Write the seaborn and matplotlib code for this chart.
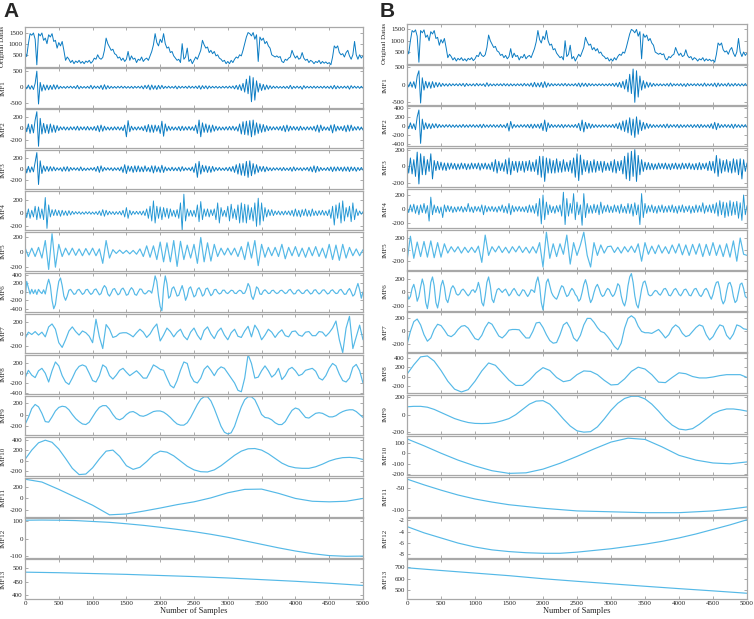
import numpy as np
import matplotlib
matplotlib.use("Agg")
import matplotlib.pyplot as plt
import seaborn as sns

# ---- values (equally spaced over samples 0..5000) ----
original = [
    620, 420, 1000, 1450, 1380, 1480, 1200, 50, 1450, 1350,
    1480, 1150, 1250, 1000, 1400, 1300, 1450, 1100, 1150, 800,
    1050, 900, 1100, 700, 250, 400, 300, 150, 250, 100,
    220, 150, 250, 120, 200, 100, 220, 160, 250, 120,
    200, 350, 300, 500, 350, 300, 380, 700, 1250, 1000,
    850, 700, 750, 550, 500, 350, 400, 250, 350, 200,
    300, 650, 250, 450, 300, 350, 150, 300, 250, 400,
    200, 300, 350, 250, 450, 650, 950, 1450, 1050, 900,
    1200, 1050, 1450, 1000, 800, 850, 600, 650, 450, 350,
    250, 300, 150, 1000, 300, 400, 800, 200, 300, 100,
    250, 400, 300, 500, 700, 1150, 950, 800, 850, 600,
    700, 550, 650, 450, 500, 350, 300, 200, 250, 100,
    200, 100, 250, 150, 300, 400, 350, 500, 450, 700,
    1000, 1300, 1500, 1450, 1350, 1500, 1200, 1400, 200, 1300,
    1150, 1250, 1000, 1100, 900, 800, 500, 450, 400, 450,
    380, 420, 200, 150, 300, 250, 350, 400, 700, 500,
    350, 450, 300, 350, 600, 350, 250, 300, 150, 250,
    200, 100, 200, 150, 250, 100, 200, 120, 180, 100,
    150, 50, 400, 900, 800, 900, 600, 500, 550, 400,
    600, 700, 450, 300, 500, 1100, 500, 300, 500, 350,
    450]

imf1_a = [
    60, -50, 70, -60, 50, -70, 120, 500, -520, 150,
    -120, 80, -90, 70, -80, 60, -70, 80, -60, 70,
    -50, 30, -30, 25, -35, 30, -25, 35, -30, 30,
    -40, 60, -50, 30, -30, 25, -30, 30, -35, 60,
    -50, 40, -30, 35, -40, 60, -70, 80, -60, 50,
    -40, 30, -30, 25, -30, 30, -25, 35, -30, 30,
    -30, 25, -30, 30, -35, 30, -25, 30, -30, 40,
    -50, 60, -40, 70, -80, 70, -60, 50, -70, 60,
    -50, 60, -40, 30, -30, 35, -30, 25, -30, 40,
    -50, 35, -30, 30, -25, 30, -35, 40, -30, 30,
    -30, 35, -40, 50, -60, 50, -40, 45, -50, 40,
    -30, 30, -25, 30, -30, 25, -30, 30, -25, 30,
    -30, 35, -30, 40, -50, 60, -70, 80, -100, 120,
    -150, 250, -200, 350, -450, 300, -400, 200, -150, 120,
    -100, 90, -80, 70, -60, 50, -40, 35, -30, 30,
    -30, 25, -30, 30, -35, 30, -40, 60, -50, 30,
    -30, 35, -30, 30, -60, 50, -30, 30, -25, 30,
    -30, 35, -30, 30, -25, 30, -30, 35, -30, 30,
    -35, 40, -50, 60, -50, 40, -35, 30, -30, 35,
    -30, 40, -60, 50, -30, 35, -30, 30, -35, 30,
    -30]

imf2_a = [
    70, -60, 80, -90, 70, -80, 150, 300, -320, 180,
    -100, 90, -80, 70, -90, 80, -70, 60, -70, 50,
    -40, 30, -25, 30, -30, 25, -30, 30, -25, 30,
    -30, 40, -35, 30, -25, 30, -30, 35, -30, 25,
    -30, 35, -40, 50, -60, 60, -50, 40, -30, 25,
    -30, 25, -30, 30, -25, 30, -30, 25, -40, 60,
    -150, 140, -60, 40, -30, 25, -30, 30, -25, 30,
    -40, 50, -60, 70, -70, 60, -70, 60, -50, 50,
    -90, 130, -140, 80, -50, 40, -35, 30, -30, 25,
    -30, 35, -40, 40, -35, 30, -30, 35, -30, 30,
    -40, 60, -90, 150, -150, 100, -70, 80, -70, 60,
    -70, 60, -50, 40, -35, 30, -30, 25, -30, 30,
    -30, 35, -30, 40, -35, 30, -50, 80, -100, 120,
    -110, 130, -120, 140, -150, 150, -120, 100, -90, 80,
    -70, 70, -60, 50, -40, 35, -30, 30, -25, 30,
    -30, 35, -40, 50, -60, 60, -50, 40, -30, 35,
    -30, 30, -40, 40, -30, 25, -30, 30, -25, 30,
    -30, 40, -50, 60, -70, 60, -40, 30, -30, 25,
    -40, 60, -80, 70, -50, 40, -30, 35, -40, 50,
    -60, 60, -50, 60, -40, 30, -30, 35, -30, 25,
    -30]

imf3_a = [
    60, -70, 50, -60, 40, -50, 120, 300, -280, 150,
    -80, 60, -40, 50, -40, 45, -35, 40, -30, 25,
    -20, 25, -40, 40, -35, 45, -40, 30, -20, 25,
    -20, 25, -30, 40, -30, 20, -25, 20, -20, 25,
    -20, 30, -40, 50, -60, 60, -40, 30, -20, 25,
    -20, 25, -30, 25, -20, 25, -30, 40, -60, 80,
    -80, 60, -40, 50, -60, 60, -50, 60, -50, 40,
    -50, 60, -40, 30, -50, 60, -70, 60, -50, 40,
    -60, 70, -60, 40, -30, 25, -30, 35, -30, 25,
    -30, 35, -40, 45, -30, 25, -20, 25, -30, 40,
    -60, 100, -150, 140, -90, 70, -50, 60, -60, 50,
    -60, 50, -40, 30, -25, 30, -25, 20, -25, 30,
    -30, 35, -40, 50, -60, 80, -90, 100, -110, 100,
    -120, 140, -150, 150, -120, 100, -90, 80, -60, 50,
    -40, 50, -50, 40, -30, 25, -30, 25, -20, 25,
    -20, 25, -30, 30, -25, 20, -25, 30, -40, 40,
    -30, 25, -20, 25, -30, 25, -20, 30, -35, 40,
    -50, 60, -60, 50, -40, 30, -25, 20, -25, 30,
    -30, 40, -45, 40, -35, 40, -30, 35, -40, 40,
    -35, 40, -45, 40, -30, 35, -40, 30, -25, 30,
    -20]

imf4_a = [
    80, -70, 60, -80, 40, -60, 100, -100, 90, -80,
    60, -100, 230, -230, 120, -60, 50, -40, 50, -40,
    40, -50, 40, -35, 30, -40, 35, -30, 25, -20,
    20, -15, 20, -20, 15, -20, 20, -15, 20, -20,
    15, -20, 20, -25, 30, -40, 50, -50, 40, -30,
    25, -20, 20, -25, 20, -20, 25, -30, 40, -60,
    80, -80, 40, -30, 25, -20, 25, -20, 25, -30,
    30, -40, 60, -80, 100, -120, 180, -150, 100, -80,
    90, -100, 80, -60, 70, -80, 60, -50, 40, -60,
    50, -80, 150, -260, 280, -120, 60, -50, 40, -50,
    40, -60, 120, -130, 170, -100, 60, -50, 60, -60,
    50, -40, 60, -100, 150, -150, 80, -50, 40, -60,
    100, -120, 130, -80, 60, -100, 120, -150, 150, -140,
    130, -150, 120, -100, 80, -120, 150, -200, 220, -180,
    150, -120, 80, -60, 50, -40, 50, -40, 30, -25,
    30, -30, 25, -30, 30, -25, 30, -35, 40, -50,
    60, -50, 40, -60, 50, -40, 60, -50, 40, -50,
    60, -40, 30, -40, 35, -30, 40, -35, 30, -40,
    50, -80, 100, -180, 120, -80, 150, -150, 180, -120,
    80, -60, 100, -130, 150, -100, 60, -40, 30, -20,
    20]

imf5_a = [
    60, -60, 50, -60, 60, -80, 150, -230, 240, -200,
    100, -60, 50, -40, 50, -45, 40, -50, 45, -40,
    50, -50, 40, -150, 150, -80, 30, -20, 25, -20,
    20, -25, 20, -30, 40, -60, 80, -70, 80, -100,
    130, -130, 120, -130, 150, -190, 140, -100, 90, -80,
    100, -150, 190, -130, 120, -120, 100, -60, 50, -40,
    50, -40, 50, -60, 70, -100, 130, -80, 150, -180,
    100, -70, 60, -50, 60, -60, 100, -90, 60, -50,
    70, -60, 50, -70, 60, -50, 70, -60, 50, -80,
    100, -100, 90, -110, 100, -80, 60, -50, 40, -50,
    30]

imf6_a = [
    -200, 250, 100, -50, 60, -40, 50, -60, 60, 0,
    -40, 50, -50, 150, 300, 150, -200, -400, -300, 0,
    250, 330, 150, -100, -200, -100, 40, 60, 0, -60,
    -40, 40, 60, 0, -60, -30, 50, 60, -10, -60,
    -30, 50, 70, 0, -70, -40, 80, 150, 100, -50,
    -100, -30, 60, 80, 0, -70, -40, 60, 90, 20,
    -80, -60, 40, 100, 50, -60, -80, 0, 70, 60,
    -20, -50, -20, 30, 20, -30, 150, 380, 250, -100,
    -350, -450, 100, 380, 200, -150, -100, 80, 120, 20,
    -100, -80, 40, 150, 0, -200, -100, 80, 120, 0,
    -120, -80, 60, 100, 20, -100, -60, 70, 90, 0,
    -90, -50, 50, 60, -10, -50, -30, 40, 40, -20,
    -40, 0, 40, 30, -30, -40, 10, 40, 20, -40,
    -30, 60, 200, 120, -100, -180, -50, 120, 80, -50,
    -60, 20, 50, 10, -40, -30, 30, 40, -10, -40,
    -20, 30, 40, 0, -40, -20, 40, 60, 0, -50,
    -40, 30, 50, 0, -40, -30, 30, 50, 0, -50,
    -30, 40, 50, -10, -50, -20, 40, 50, 0, -50,
    -30, 30, 50, 0, -40, -30, 40, 60, 0, -60,
    -50, 30, 80, 0, -100, -60, 80, 200, 50, -150,
    0]

imf7_a = [
    -80, 30, -10, 40, -20, 30, -50, 120, 170, 80,
    -150, -230, -100, 50, 120, 40, -20, 50, 20, -40,
    -150, 250, -50, -250, 160, 80, -60, -40, 10, 20,
    20, -10, -50, 20, 80, 30, -60, 0, 100, 170,
    -120, -20, 100, 40, -50, 30, 80, -40, -100, 30,
    100, -20, -100, 60, 120, 0, -80, 40, 100, -20,
    -100, 20, 80, -40, -60, 50, 130, -50, 150, 60,
    -100, -20, 80, 30, -60, 20, 70, -30, -50, 40,
    50, -20, -40, 30, 40, -30, -30, 40, 30, -40,
    20, 100, 220, -100, -320, 100, 300, -250, -50, 150,
    -100]

imf8_a = [
    -100, 60, -40, -90, 50, 100, 0, -180, 50, 230,
    150, -50, -180, -230, -100, 50, 140, 170, 140, 0,
    -150, -180, -50, 170, 120, -50, -120, -40, 60, 100,
    20, -50, 0, 50, -20, -100, -100, 30, 170, 130,
    80, 60, -100, -250, -300, -150, 60, 230, 200, -50,
    -170, -200, -100, 80, 150, 60, -50, 70, 130, 100,
    0, -100, -200, -350, -380, -100, 380, 200, -100, -80,
    50, 150, 50, -80, -20, 100, -130, -50, 80, 120,
    50, -50, -20, 60, 80, 100, 40, -100, -140, -50,
    100, 200, 150, -20, -150, -180, -100, 120, 180, 50,
    -200]

imf9_a = [
    -170, -50, 100, 170, 130, 20, -120, -130, -40, 60,
    120, 140, 130, 80, 0, -70, -120, -160, -170, -130,
    -40, 50, 120, 150, 150, 90, 0, -70, -90, -60,
    0, 40, 50, 20, -20, -30, -10, 20, 50, 60,
    60, 40, 0, -50, -110, -160, -180, -180, -140, -50,
    60, 170, 260, 300, 300, 230, 100, -50, -200, -300,
    -330, -310, -200, -30, 130, 250, 300, 300, 250, 130,
    0, -50, -60, -90, -140, -170, -170, -120, -20, 70,
    110, 90, 20, -50, -60, -20, 20, 30, 20, -10,
    -40, -40, -20, 20, 50, 70, 80, 80, 50, 0,
    -50]

imf10_a = [
    20, 200, 340, 390, 350, 220, 40, -150, -270, -260,
    -140, 30, 180, 200, 80, -100, -170, -130, -20, 110,
    180, 160, 90, -10, -110, -180, -215, -220, -180, -100,
    0, 100, 180, 225, 230, 200, 130, 40, -50, -110,
    -140, -150, -150, -120, -70, -10, 30, 55, 60, 50,
    20]

imf11_a = [340, 290, 160, 20, -120, -290, -275, -225, -170, -110, -60,
           10, 100, 160, 165, 90, 0, -50, -60, -50, 0]
imf12_a = [105, 106, 105, 103, 98, 93, 85, 76, 65, 53, 40,
           25, 8, -12, -32, -52, -70, -85, -96, -100, -99]
imf13_a = [484, 482, 479, 476, 472, 468, 463, 457, 451, 444, 436]

imf1_b = [
    70, -60, 80, -70, 90, -100, 250, 400, -520, 200,
    -150, 100, -90, 80, -100, 90, -80, 70, -60, 60,
    -50, 40, -35, 30, -40, 35, -30, 30, -25, 30,
    -30, 35, -30, 40, -50, 40, -30, 25, -30, 30,
    -35, 40, -30, 30, -25, 30, -50, 60, -40, 30,
    -30, 25, -30, 30, -25, 30, -30, 35, -30, 30,
    -35, 30, -30, 25, -30, 30, -25, 30, -35, 40,
    -30, 30, -40, 50, -60, 70, -60, 50, -60, 70,
    -80, 90, -70, 50, -40, 35, -30, 30, -25, 30,
    -30, 35, -30, 40, -35, 30, -30, 25, -30, 35,
    -40, 50, -60, 50, -40, 45, -50, 40, -30, 30,
    -30, 25, -30, 30, -25, 30, -30, 25, -30, 35,
    -30, 40, -45, 50, -60, 70, -80, 100, -120, 150,
    -200, 300, -250, 450, -500, 400, -350, 250, -150, 120,
    -100, 80, -70, 60, -50, 40, -35, 30, -30, 30,
    -30, 25, -30, 35, -40, 50, -40, 30, -25, 30,
    -30, 35, -40, 30, -50, 40, -30, 30, -25, 30,
    -30, 35, -30, 30, -40, 50, -40, 30, -30, 35,
    -40, 50, -60, 50, -40, 35, -30, 30, -40, 50,
    -40, 30, -35, 40, -30, 30, -35, 30, -30, 35,
    -30]

imf2_b = [
    50, -60, 70, -60, 50, -80, 200, 350, -380, 150,
    -80, 70, -60, 50, -60, 50, -40, 50, -40, 35,
    -30, 25, -30, 30, -25, 30, -30, 25, -30, 25,
    -30, 25, -30, 35, -30, 25, -30, 30, -25, 30,
    -30, 25, -30, 35, -40, 40, -30, 25, -30, 30,
    -25, 30, -30, 25, -30, 35, -30, 25, -40, 60,
    -110, 100, -50, 35, -30, 25, -30, 30, -25, 30,
    -30, 35, -40, 40, -50, 40, -35, 40, -50, 60,
    -100, 130, -120, 70, -40, 35, -30, 25, -30, 30,
    -30, 35, -40, 30, -25, 30, -30, 25, -30, 35,
    -40, 60, -100, 130, -130, 80, -60, 60, -50, 40,
    -35, 30, -30, 25, -30, 30, -25, 30, -30, 25,
    -30, 35, -40, 50, -60, 70, -90, 110, -120, 130,
    -150, 180, -200, 150, -250, 200, -180, 130, -100, 80,
    -70, 60, -50, 40, -35, 30, -30, 25, -30, 30,
    -30, 35, -40, 45, -40, 30, -25, 30, -30, 35,
    -40, 30, -30, 25, -30, 30, -25, 30, -35, 30,
    -30, 35, -40, 35, -30, 25, -30, 30, -40, 50,
    -60, 80, -80, 60, -40, 30, -30, 35, -30, 30,
    -35, 40, -50, 40, -30, 30, -35, 30, -25, 30,
    -30]

imf3_b = [
    60, -80, 100, -90, 80, -120, 170, -210, 150, -100,
    120, -100, 80, -60, 150, -150, 70, -50, 60, -40,
    50, -45, 40, -50, 40, -35, 40, -30, 35, -40,
    30, -35, 40, -30, 35, -40, 30, -35, 40, -30,
    35, -30, 40, -45, 35, -30, 40, -35, 30, -40,
    50, -60, 80, -80, 60, -50, 40, -60, 80, -90,
    100, -100, 60, -50, 60, -70, 60, -50, 60, -70,
    60, -50, 70, -60, 50, -60, 80, -100, 120, -130,
    120, -180, 100, -80, 90, -80, 70, -80, 90, -70,
    60, -70, 80, -60, 50, -60, 70, -80, 100, -130,
    150, -170, 135, -100, 80, -60, 70, -80, 60, -70,
    80, -70, 60, -50, 60, -70, 60, -50, 40, -50,
    60, -70, 80, -80, 60, -50, 70, -90, 120, -150,
    160, -170, 180, -120, 200, -180, 130, -100, 80, -60,
    50, -40, 45, -40, 35, -40, 30, -35, 40, -30,
    35, -30, 40, -35, 30, -40, 35, -30, 40, -35,
    30, -35, 40, -30, 35, -30, 40, -35, 30, -40,
    35, -40, 45, -40, 35, -30, 40, -50, 60, -50,
    60, -80, 130, -120, 90, -80, 70, -60, 80, -70,
    60, -80, 90, -70, 80, -100, 90, -150, 80, -60,
    40]

imf4_b = [
    40, -50, 60, -40, 70, -60, 50, -80, 60, -50,
    80, -60, 50, -170, 170, -80, 60, -50, 40, -60,
    30, -120, 60, -40, 50, -35, 40, -50, 30, -40,
    35, -30, 40, -45, 30, -35, 80, -40, 30, -50,
    40, -30, 35, -40, 60, -80, 50, -40, 35, -30,
    40, -35, 30, -45, 40, -30, 60, -50, 40, -60,
    80, -80, 50, -40, 35, -30, 40, -35, 30, -40,
    40, -50, 60, -45, 50, -60, 80, -100, 150, -210,
    200, -150, 100, -80, 60, -50, 40, -60, 50, -40,
    60, -100, 240, -220, 150, -100, 80, -60, 220, -150,
    100, -80, 60, -230, 220, -120, 80, -60, 50, -60,
    70, -50, 60, -80, 100, -60, 50, -40, 60, -50,
    40, -50, 60, -40, 50, -60, 70, -50, 40, -60,
    80, -60, 70, -100, 90, -80, 60, -220, 220, -120,
    80, -60, 50, -40, 60, -50, 40, -60, 50, -40,
    60, -50, 40, -45, 50, -40, 60, -50, 40, -60,
    50, -40, 60, -50, 40, -35, 50, -60, 40, -50,
    60, -45, 50, -40, 90, -60, 50, -40, 60, -50,
    70, -60, 90, -100, 120, -80, 100, -120, 90, -100,
    120, -90, 100, -80, 110, -130, 90, -160, 200, -80,
    50]

imf5_b = [
    -200, 230, -150, 130, -120, 140, -130, 150, -140, 120,
    -130, 100, -60, 50, -40, 50, -60, 40, -50, 40,
    -50, 60, -220, 250, -100, 50, -40, 60, -50, 40,
    -60, 50, -40, 60, -50, 40, -60, 50, -60, 120,
    -300, 300, -150, 100, -120, 100, -80, 250, -250, 120,
    -100, 80, 300, -100, -300, 120, -100, 80, -60, 50,
    60, -50, 40, -60, 50, -40, 60, -50, 100, -200,
    120, -80, 60, -70, 80, -60, 50, -70, 80, -60,
    100, -90, 80, -100, 90, -80, 100, -120, 90, -100,
    120, -100, 80, -120, 100, -130, 150, -200, 200, -80,
    -100]

imf6_b = [
    0, -100, -60, 60, 120, 20, -130, -60, 80, 200,
    100, -150, -240, -80, 150, 230, 100, -150, -230, -100,
    100, 180, 80, -100, -150, -50, 60, 100, 60, -20,
    -40, -20, 30, 50, 20, -20, -50, -20, 30, 40,
    0, 50, 150, 50, -150, -200, -50, 150, 230, 100,
    -100, -150, -50, 40, 60, 30, 0, 30, 50, 0,
    -50, -20, 30, 60, 20, -30, -50, -10, 40, 30,
    -20, -60, -20, 40, 30, 0, 150, 230, 100, -150,
    -260, -50, 150, 200, 100, 0, -50, -80, -100, -40,
    40, 100, 80, 0, -60, -40, 20, 60, 30, -30,
    -60, -130, -100, 0, 120, 190, 100, -50, -150, -100,
    0, 80, 120, 60, -20, -60, -40, 20, 60, 40,
    -20, -60, -30, 40, 130, 100, -50, -150, -200, -100,
    100, 230, 280, 150, -50, -180, -230, -100, 50, 150,
    170, 80, -30, -50, -40, 0, 30, 20, -20, -40,
    0, 50, 60, 20, -40, -50, -10, 40, 60, 20,
    -30, -50, -10, 40, 50, 10, -40, -50, 0, 50,
    60, 10, -40, -60, -20, 40, 60, 20, -50, -100,
    -30, 80, 150, 160, 60, -100, -170, -120, 20, 130,
    150, 80, -60, -150, -120, 0, 120, 140, 60, -60,
    -80]

imf7_b = [
    -200, 0, 150, 190, 100, -50, -150, -100, 30, 110,
    90, 20, -60, -80, -40, 30, 80, 90, 50, -30,
    -110, -130, -60, 60, 140, 110, 20, -70, -100, -50,
    20, 30, 30, 25, -40, -100, -100, 0, 130, 140,
    60, -50, -140, -180, -170, -50, 100, 140, 50, -100,
    -150, -60, 100, 200, 200, 140, 60, 0, -20, -80,
    -150, -230, -280, -180, 50, 200, 240, 200, 80, 0,
    -20, -20, -30, 0, 30, -30, -100, -50, 50, 100,
    60, -30, -80, -60, 0, 60, 100, 80, -50, -130,
    -80, 20, 100, 80, -60, -120, -40, 100, 80, 40,
    30]

imf8_b = [
    50, 250, 420, 440, 330, 130, -100, -270, -330, -280,
    -100, 120, 290, 240, 80, -80, -190, -190, -80, 80,
    190, 130, -20, -110, -80, 40, 120, 110, 40, -80,
    -180, -170, -50, 110, 200, 160, 40, -120, -130, -20,
    80, 60, 0, -30, -30, -10, 20, 40, 40, 40,
    -20]

imf9_b = [
    90, 95, 95, 85, 60, 25, -10, -45, -70, -90,
    -100, -102, -100, -90, -70, -45, 0, 60, 120, 155,
    160, 120, 40, -50, -130, -185, -200, -195, -140, -50,
    50, 130, 185, 210, 210, 180, 120, 40, -50, -120,
    -165, -175, -160, -110, -50, 10, 45, 65, 65, 55,
    40]

imf10_b = [135, 70, 0, -65, -120, -165, -190, -185, -150, -95, -30,
           40, 105, 142, 130, 60, -20, -65, -92, -100, -82]
imf11_b = [-30, -43, -55, -66, -75, -82, -88, -92, -96, -99, -102,
           -103, -104, -105, -106, -106, -106, -104, -102, -98, -93]
imf12_b = [-3.1, -4.2, -5.1, -6.0, -6.7, -7.2, -7.5, -7.7, -7.8, -7.8, -7.6,
           -7.3, -7.0, -6.6, -6.2, -5.7, -5.1, -4.4, -3.6, -2.8, -1.9]
imf13_b = [697, 673, 650, 627, 600, 577, 555, 533, 512, 492, 471]

row_labels = ["Original Datas"] + ["IMF%d" % k for k in range(1, 14)]
x_ticks = list(range(0, 5001, 500))

series_a = [original, imf1_a, imf2_a, imf3_a, imf4_a, imf5_a, imf6_a,
            imf7_a, imf8_a, imf9_a, imf10_a, imf11_a, imf12_a, imf13_a]
series_b = [original, imf1_b, imf2_b, imf3_b, imf4_b, imf5_b, imf6_b,
            imf7_b, imf8_b, imf9_b, imf10_b, imf11_b, imf12_b, imf13_b]

yticks_a = [[500, 1000, 1500], [-500, 0, 500], [-200, 0, 200], [-200, 0, 200],
            [-200, 0, 200], [-200, 0, 200], [-400, -200, 0, 200, 400],
            [-200, 0, 200], [-400, -200, 0, 200], [-200, 0, 200],
            [-200, 0, 200, 400], [-200, 0, 200], [-100, 0, 100], [400, 450, 500]]
yticks_b = [[500, 1000, 1500], [-500, 0, 500], [-400, -200, 0, 200, 400],
            [-200, 0, 200], [-200, 0, 200], [-200, 0, 200], [-200, 0, 200],
            [-200, 0, 200], [-200, 0, 200, 400], [-200, 0, 200],
            [-200, -100, 0, 100], [-100, -50], [-8, -6, -4, -2], [500, 600, 700]]

ylims_a = [(-30, 1750), (-630, 600), (-360, 350), (-370, 350), (-260, 330),
           (-255, 265), (-485, 455), (-330, 345), (-430, 380), (-350, 320),
           (-300, 460), (-330, 370), (-110, 115), (387, 530)]
ylims_b = [(-20, 1740), (-575, 560), (-440, 430), (-250, 225), (-275, 290),
           (-345, 340), (-272, 318), (-315, 295), (-355, 495), (-225, 230),
           (-210, 165), (-115, -25), (-8.6, -1.6), (420, 773)]

sns.set_style("ticks")
plt.rcParams['font.family'] = ['Liberation Serif', 'DejaVu Serif']
plt.rcParams['axes.unicode_minus'] = False

fig = plt.figure(figsize=(7.54, 6.19), dpi=100)
gs_a = fig.add_gridspec(14, 1, left=25/754, right=363/754, top=1-27/619,
                        bottom=1-599/619, hspace=0.035)
gs_b = fig.add_gridspec(14, 1, left=407/754, right=747/754, top=1-24/619,
                        bottom=1-599/619, hspace=0.035)


def draw_panel(gs, series, yticks, ylims, n_dark):
    for i in range(14):
        ax = fig.add_subplot(gs[i])
        vals = series[i]
        x = np.linspace(0, 5000, len(vals))
        if i < n_dark:
            col, lw = '#0b7cc3', 0.7
        elif i == n_dark:
            col, lw = '#2196d4', 0.65
        else:
            col, lw = '#55b9e7', 0.85
        sns.lineplot(x=x, y=vals, ax=ax, color=col, linewidth=lw)
        ax.set_xlim(0, 5000)
        ax.set_ylim(*ylims[i])
        ax.set_xticks(x_ticks)
        ax.set_yticks(yticks[i])
        ax.tick_params(direction='in', length=2.5, width=0.5, colors='#222222',
                       labelsize=5, pad=1.5, top=True, right=True)
        ax.tick_params(which='both', color='#888888')
        for sp in ax.spines.values():
            sp.set_color('#a8a8a8')
            sp.set_linewidth(0.9)
        ax.set_ylabel(row_labels[i], fontsize=5)
        ax.yaxis.set_label_coords(-0.058, 0.5)
        if i < 13:
            ax.tick_params(labelbottom=False)
            ax.set_xlabel("")
        else:
            ax.set_xlabel("Number of Samples", fontsize=6, labelpad=0.5)


draw_panel(gs_a, series_a, yticks_a, ylims_a, 4)
draw_panel(gs_b, series_b, yticks_b, ylims_b, 4)

fig.text(0.004, 0.997, "A", fontsize=15, fontweight='bold', va='top', ha='left',
         family='Liberation Sans')
fig.text(0.503, 0.997, "B", fontsize=15, fontweight='bold', va='top', ha='left',
         family='Liberation Sans')

fig.savefig("out.png", dpi=100)
